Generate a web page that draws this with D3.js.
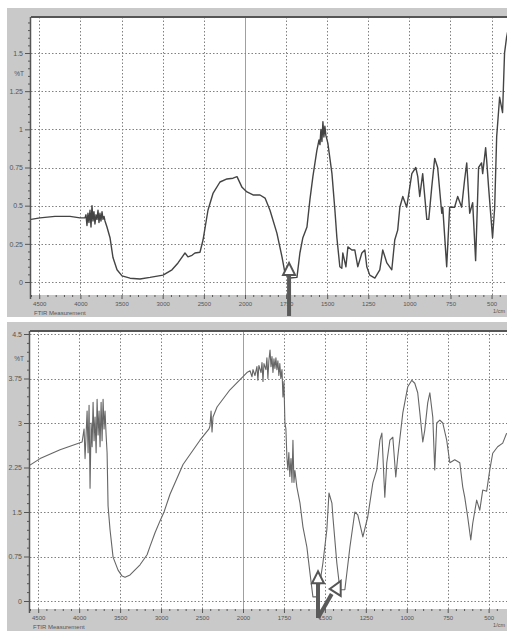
<!DOCTYPE html>
<html>
<head>
<meta charset="utf-8">
<script src="https://cdn.jsdelivr.net/npm/d3@7"></script>
<style>
  html, body { margin: 0; padding: 0; background: #fff; }
  svg { display: block; font-family: "Liberation Sans", Arial, sans-serif; }
</style>
</head>
<body>
<svg id="chart" width="507" height="631"></svg>
<script>
// ---- axis labels ----
const xMajorTicks = [4500, 4000, 3500, 3000, 2500, 2000, 1750, 1500, 1250, 1000, 750, 500];
const topYTicks = [0, 0.25, 0.5, 0.75, 1, 1.25, 1.5];
const bottomYTicks = [0, 0.75, 1.5, 2.25, 3, 3.75, 4.5];
const yAxisTitle = "%T";
const footLabel = "FTIR Measurement";
const unitLabel = "1/cm";

// ---- upper spectrum: wavenumber (1/cm) and transmittance ----
const topWn = [4600, 4491, 4309, 4126, 4005, 3944, 3932, 3920, 3908, 3896, 3883, 3871, 3859, 3847, 3835, 3823,
  3810, 3798, 3786, 3774, 3762, 3750, 3737, 3725, 3713, 3701, 3677, 3640, 3604, 3555, 3494, 3397, 3276, 3154,
  2996, 2887, 2814, 2729, 2693, 2644, 2608, 2547, 2510, 2450, 2389, 2304, 2219, 2146, 2097, 2036, 1988, 1951,
  1909, 1878, 1848, 1806, 1775, 1757, 1727, 1684, 1666, 1648, 1623, 1605, 1587, 1563, 1550, 1544, 1538, 1532,
  1526, 1520, 1514, 1508, 1496, 1471, 1453, 1441, 1423, 1411, 1405, 1386, 1374, 1350, 1332, 1314, 1289, 1271,
  1259, 1241, 1210, 1180, 1162, 1137, 1107, 1089, 1071, 1058, 1040, 1016, 985, 961, 949, 937, 919, 894, 882,
  864, 846, 828, 803, 797, 773, 755, 725, 706, 682, 664, 651, 633, 615, 597, 579, 561, 554, 536, 530, 518,
  494, 481, 469, 451, 433, 421, 409, 400];
const topT = [0.41, 0.42, 0.43, 0.43, 0.42, 0.42, 0.44, 0.37, 0.45, 0.39, 0.47, 0.36, 0.50, 0.40, 0.46, 0.38,
  0.44, 0.41, 0.47, 0.39, 0.45, 0.40, 0.46, 0.41, 0.43, 0.40, 0.36, 0.29, 0.16, 0.08, 0.04, 0.025, 0.02, 0.03,
  0.045, 0.08, 0.125, 0.19, 0.165, 0.175, 0.19, 0.195, 0.275, 0.47, 0.58, 0.655, 0.675, 0.68, 0.69, 0.62, 0.59, 0.57,
  0.57, 0.55, 0.47, 0.32, 0.165, 0.06, 0.026, 0.03, 0.19, 0.29, 0.36, 0.54, 0.69, 0.86, 0.93, 0.90, 1.00, 0.92,
  1.05, 0.95, 1.02, 0.96, 0.91, 0.71, 0.47, 0.29, 0.10, 0.09, 0.19, 0.10, 0.23, 0.21, 0.21, 0.10, 0.19, 0.21,
  0.10, 0.045, 0.026, 0.08, 0.21, 0.125, 0.08, 0.275, 0.34, 0.49, 0.56, 0.49, 0.71, 0.75, 0.69, 0.56, 0.71, 0.41, 0.41,
  0.62, 0.81, 0.75, 0.45, 0.49, 0.10, 0.49, 0.49, 0.56, 0.49, 0.67, 0.78, 0.45, 0.52, 0.14, 0.75, 0.78, 0.71, 0.88, 0.80, 0.62,
  0.29, 0.49, 0.95, 1.21, 1.11, 1.50, 1.60, 1.65];

// ---- lower spectrum: wavenumber (1/cm) and transmittance ----
const bottomWn = [4600, 4477, 4233, 3964, 3940, 3928, 3903, 3891, 3879, 3867, 3854, 3842, 3830, 3818, 3806, 3793,
  3781, 3769, 3757, 3745, 3732, 3720, 3708, 3696, 3684, 3671, 3659, 3647, 3623, 3586, 3525, 3476, 3440, 3379,
  3257, 3171, 3135, 3074, 3013, 2964, 2891, 2732, 2525, 2415, 2403, 2390, 2378, 2366, 2317, 2159, 2000,
  1976, 1957, 1945, 1939, 1927, 1915, 1909, 1903, 1890, 1884, 1878, 1872, 1860, 1854, 1848, 1842, 1835, 1829,
  1823, 1817, 1811, 1805, 1799, 1793, 1787, 1781, 1775, 1769, 1762, 1756, 1750, 1744, 1738, 1732, 1726, 1720,
  1714, 1707, 1701, 1695, 1689, 1683, 1671, 1652, 1634, 1610, 1591, 1573, 1543, 1512, 1488, 1475, 1457, 1451,
  1427, 1408, 1378, 1347, 1317, 1299, 1268, 1238, 1207, 1183, 1164, 1152, 1134, 1122, 1103, 1085, 1067, 1055,
  1024, 994, 969, 951, 933, 920, 902, 890, 872, 859, 841, 829, 817, 798, 780, 756, 737, 707, 676, 658, 646, 628,
  609, 597, 573, 554, 536, 512, 493, 475, 445, 414, 390];
const bottomT = [2.29, 2.40, 2.55, 2.68, 2.9, 2.4, 3.2, 2.5, 3.3, 1.9, 3.0, 2.6, 3.35, 2.7, 3.1, 2.5,
  3.4, 2.8, 3.2, 2.6, 3.35, 2.7, 3.4, 2.9, 3.2, 2.8, 2.5, 1.6, 1.2, 0.74, 0.52, 0.42, 0.40, 0.44,
  0.61, 0.78, 0.92, 1.15, 1.35, 1.5, 1.8, 2.3, 2.71, 2.9, 2.95, 3.2, 2.85, 3.1, 3.27, 3.56, 3.78,
  3.85, 3.88, 3.78, 3.9, 3.8, 3.95, 3.72, 3.97, 3.85, 4.02, 3.70, 4.0, 3.9, 4.1, 3.75, 4.05, 4.23, 3.95,
  4.12, 3.85, 4.08, 3.92, 4.1, 3.9, 4.05, 3.8, 4.0, 3.75, 3.9, 3.44, 3.7, 3.0, 2.9, 2.43, 2.21, 2.5,
  2.1, 2.4, 2.0, 2.71, 2.0, 2.2, 1.92, 1.65, 1.25, 0.91, 0.47, 0.07, 0.07, 0.64, 1.2, 1.82, 1.65, 1.42,
  0.64, 0.19, 0.19, 0.91, 1.5, 1.45, 1.08, 1.42, 1.99, 2.21, 2.71, 2.83, 1.75, 2.33, 2.71, 2.76, 2.09, 2.43,
  3.17, 3.61, 3.72, 3.67, 3.51, 3.17, 2.68, 2.88, 3.34, 3.51, 3.1, 2.21, 3.0, 3.05, 3.0, 2.71, 2.33, 2.38, 2.33, 1.92, 1.75, 1.42,
  1.03, 1.31, 1.70, 1.53, 1.87, 1.85, 2.21, 2.49, 2.6, 2.66, 2.83];

const svg = d3.select("#chart");
const BAND = "#c9c9c9";
const INK = "#555";

// Minor tick positions on the wavenumber axis: 100 steps above 2000, 50 steps below
const xMinorTicks = d3.range(4600, 2000, -100).concat(d3.range(2000, 400, -50))
  .filter(v => !xMajorTicks.includes(v));

function drawPanel(cfg) {
  const { frameTop, frameBottom, left, plotTop, plotBottom, right, xRange, yTicks, yDomainTop, yRange, minorStep, wn, t, curveColor, curveWidth } = cfg;
  const g = svg.append("g");

  const x = d3.scaleLinear().domain([4600, 2000, 400]).range(xRange);
  const y = d3.scaleLinear().domain([0, yDomainTop]).range(yRange);

  // frame bands and white plotting area
  g.append("rect").attr("x", 7).attr("y", frameTop).attr("width", 500).attr("height", frameBottom - frameTop).attr("fill", BAND);
  g.append("rect").attr("x", left).attr("y", plotTop).attr("width", right - left).attr("height", plotBottom - plotTop).attr("fill", "#fff");

  // grid
  const grid = g.append("g");
  grid.selectAll("line.v").data(xMajorTicks).join("line")
    .attr("x1", d => Math.round(x(d)) + 0.5).attr("x2", d => Math.round(x(d)) + 0.5)
    .attr("y1", plotTop).attr("y2", plotBottom)
    .attr("stroke", d => d === 2000 ? "#a0a0a0" : "#808080")
    .attr("stroke-width", 1)
    .attr("stroke-dasharray", d => d === 2000 ? null : "1.5,2");
  grid.selectAll("line.h").data(yTicks).join("line")
    .attr("x1", left).attr("x2", right)
    .attr("y1", d => Math.round(y(d)) + 0.5).attr("y2", d => Math.round(y(d)) + 0.5)
    .attr("stroke", "#808080").attr("stroke-width", 1).attr("stroke-dasharray", "1.5,2");

  // spectrum
  const clipId = "clip" + plotTop;
  g.append("clipPath").attr("id", clipId).append("rect")
    .attr("x", left).attr("y", plotTop).attr("width", right - left).attr("height", plotBottom - plotTop);
  const pts = wn.map((w, i) => [w, t[i]]);
  g.append("path").attr("clip-path", `url(#${clipId})`)
    .datum(pts)
    .attr("fill", "none").attr("stroke", curveColor).attr("stroke-width", curveWidth).attr("stroke-linejoin", "round")
    .attr("d", d3.line().x(d => x(d[0])).y(d => y(d[1])));

  // top border of the plotting area
  g.append("line").attr("x1", left).attr("x2", right).attr("y1", plotTop).attr("y2", plotTop)
    .attr("stroke", INK).attr("stroke-width", 2);

  // y axis (major + minor)
  const yMinor = d3.range(0, y.invert(plotTop), minorStep).filter(v => !yTicks.some(m => Math.abs(m - v) < 1e-6));
  const yAx = g.append("g").attr("transform", `translate(${left},0)`)
    .call(d3.axisLeft(y).tickValues(yTicks).tickSize(6).tickSizeOuter(0).tickPadding(2).tickFormat(d3.format("~g")));
  yAx.select(".domain").remove();
  yAx.selectAll(".tick text").attr("font-size", 7);
  g.append("g").attr("transform", `translate(${left},0)`)
    .call(d3.axisLeft(y).tickValues(yMinor).tickSize(3).tickFormat(""))
    .select(".domain").remove();
  g.append("line").attr("x1", left - 0.5).attr("x2", left - 0.5).attr("y1", plotTop).attr("y2", plotBottom + 4)
    .attr("stroke", INK).attr("stroke-width", 1.5);

  // x axis (major + minor)
  const xAx = g.append("g").attr("transform", `translate(0,${plotBottom})`)
    .call(d3.axisBottom(x).tickValues(xMajorTicks).tickSize(4).tickSizeOuter(0).tickPadding(3).tickFormat(d3.format("d")));
  xAx.select(".domain").remove();
  xAx.selectAll(".tick text").attr("font-size", 6);
  g.append("g").attr("transform", `translate(0,${plotBottom})`)
    .call(d3.axisBottom(x).tickValues(xMinorTicks).tickSize(2).tickFormat(""))
    .select(".domain").remove();

  g.selectAll(".tick line").attr("stroke", INK);
  g.selectAll(".tick text").attr("fill", "#555").attr("font-family", "Liberation Sans, Arial, sans-serif");

  // captions
  g.append("text").attr("x", 19).attr("y", y(yTicks[yTicks.length - 1]) + (y(yTicks[yTicks.length - 2]) - y(yTicks[yTicks.length - 1])) * 0.55)
    .attr("text-anchor", "middle").attr("dy", "0.35em").attr("font-size", 6.5).attr("fill", "#555").text(yAxisTitle);
  g.append("text").attr("x", left + 3).attr("y", frameBottom - 2).attr("font-size", 6).attr("fill", "#555").text(footLabel);
  g.append("text").attr("x", 505).attr("y", frameBottom - 4).attr("text-anchor", "end")
    .attr("font-size", 5.5).attr("fill", "#555").text(unitLabel);

  return { x, y };
}

const upperPanel = drawPanel({
  frameTop: 8, frameBottom: 317, left: 31, plotTop: 17, plotBottom: 295, right: 508,
  xRange: [31, 245, 508], yTicks: topYTicks, yDomainTop: 1.5, yRange: [282, 53], minorStep: 0.05,
  wn: topWn, t: topT, curveColor: "#444", curveWidth: 1.4
});
const lowerPanel = drawPanel({
  frameTop: 322, frameBottom: 631, left: 30, plotTop: 331, plotBottom: 609, right: 508,
  xRange: [30, 243, 505], yTicks: bottomYTicks, yDomainTop: 4.5, yRange: [601, 334], minorStep: 0.15,
  wn: bottomWn, t: bottomT, curveColor: "#666", curveWidth: 1.1
});

// ---- arrows marking the absorption bands ----
const arrows = svg.append("g");
function headPath(ax, ay, w, h) {
  return `M${ax},${ay} L${ax - w / 2},${ay + h} L${ax + w / 2},${ay + h} Z`;
}
// upper panel: band near 1730 1/cm
{
  const ax = upperPanel.x(1732), ay = upperPanel.y(0.125);
  arrows.append("line").attr("x1", ax).attr("x2", ax).attr("y1", ay + 12).attr("y2", 316)
    .attr("stroke", "#5a5a5a").attr("stroke-width", 4);
  arrows.append("path").attr("d", headPath(ax, ay, 12, 12))
    .attr("fill", "#fff").attr("stroke", "#555").attr("stroke-width", 2).attr("stroke-linejoin", "miter");
}
// lower panel: two bands near 1540 and 1410 1/cm
{
  const ax = lowerPanel.x(1542), ay = lowerPanel.y(0.5);
  const baseY = 618;
  arrows.append("line").attr("x1", ax).attr("x2", ax).attr("y1", ay + 12).attr("y2", baseY)
    .attr("stroke", "#5a5a5a").attr("stroke-width", 4);
  arrows.append("path").attr("d", headPath(ax, ay, 12, 12))
    .attr("fill", "#fff").attr("stroke", "#555").attr("stroke-width", 2);
  const bx = lowerPanel.x(1440), by = lowerPanel.y(0.22);
  arrows.append("line").attr("x1", ax).attr("x2", bx - 3).attr("y1", baseY).attr("y2", by + 6)
    .attr("stroke", "#5a5a5a").attr("stroke-width", 4);
  arrows.append("path")
    .attr("d", `M${bx - 5},${by + 1} L${bx + 6},${by - 7} L${bx + 6},${by + 8} Z`)
    .attr("fill", "#fff").attr("stroke", "#555").attr("stroke-width", 2);
}
</script>
</body>
</html>
